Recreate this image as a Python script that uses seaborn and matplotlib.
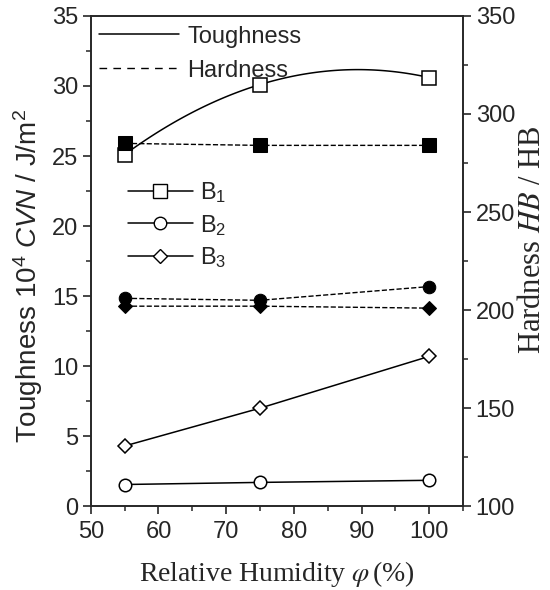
import matplotlib
matplotlib.use("Agg")
import matplotlib.pyplot as plt
from matplotlib.lines import Line2D
from matplotlib.ticker import MultipleLocator
import seaborn as sns

# data
humidity = [55, 75, 100]
toughness_b1 = [25.1, 30.1, 30.6]
toughness_b2 = [1.55, 1.7, 1.85]
toughness_b3 = [4.3, 7.0, 10.7]
hardness_b1 = [285, 284, 284]
hardness_b2 = [206, 205, 212]
hardness_b3 = [202, 202, 201]
grades = ["B$_1$", "B$_2$", "B$_3$"]
grade_markers = ["s", "o", "D"]
marker_sizes = {"s": 10, "o": 9, "D": 7.5}
dash = (5.5, 4.5)

sns.set_style("ticks")
plt.rcParams["font.family"] = ["Liberation Sans", "DejaVu Sans"]
plt.rcParams["mathtext.fontset"] = "custom"
plt.rcParams["mathtext.rm"] = "Liberation Sans"
plt.rcParams["mathtext.it"] = "Liberation Sans:italic"
plt.rcParams["font.size"] = 17
plt.rcParams["axes.linewidth"] = 1.2

fig, ax = plt.subplots(figsize=(5.5, 5.9), dpi=100)
fig.subplots_adjust(left=0.165, right=0.842, top=0.973, bottom=0.142)
ax2 = ax.twinx()

# toughness: solid lines, open markers (B1 drawn as a smooth curve)
sns.regplot(x=humidity, y=toughness_b1, order=2, ci=None, scatter=False, ax=ax,
            color="black", line_kws=dict(linewidth=1.1))
sns.lineplot(x=humidity, y=toughness_b1, ax=ax, marker="s", linestyle="",
             markersize=marker_sizes["s"], markerfacecolor="white",
             markeredgecolor="black", markeredgewidth=1.1, color="black")
for vals, m in [(toughness_b2, "o"), (toughness_b3, "D")]:
    sns.lineplot(x=humidity, y=vals, ax=ax, marker=m, linewidth=1.1,
                 markersize=marker_sizes[m], markerfacecolor="white",
                 markeredgecolor="black", markeredgewidth=1.1, color="black")

# hardness: dashed lines, filled markers
for vals, m in zip([hardness_b1, hardness_b2, hardness_b3], grade_markers):
    sns.lineplot(x=humidity, y=vals, ax=ax2, marker=m, linestyle="--",
                 linewidth=1.0, dashes=dash, markersize=marker_sizes[m],
                 markerfacecolor="black", markeredgecolor="black", color="black")

ax.set_xlim(50, 105)
ax.set_ylim(0, 35)
ax2.set_ylim(100, 350)
ax.xaxis.set_major_locator(MultipleLocator(10))
ax.xaxis.set_minor_locator(MultipleLocator(5))
ax.yaxis.set_major_locator(MultipleLocator(5))
ax.yaxis.set_minor_locator(MultipleLocator(2.5))
ax2.yaxis.set_major_locator(MultipleLocator(50))
ax2.yaxis.set_minor_locator(MultipleLocator(25))

for a in (ax, ax2):
    a.tick_params(which="major", direction="out", length=6, width=1.2,
                  labelsize=17, pad=3)
    a.tick_params(which="minor", direction="out", length=3.5, width=1.1)
    for s in a.spines.values():
        s.set_visible(True)
        s.set_linewidth(1.2)
ax.tick_params(axis="x", which="major", pad=5)

ax.set_xlabel(r"Relative Humidity $\varphi\,$(%)", fontsize=20,
              family="Liberation Serif", math_fontfamily="stix", labelpad=11)
ax.set_ylabel(r"Toughness 10$^4$ $CVN$ / J/m$^2$", fontsize=20)
ax.yaxis.set_label_coords(-0.124, 0.47)
ax2.set_ylabel(r"Hardness $HB$ / HB", fontsize=22, family="Liberation Serif",
               math_fontfamily="stix")
ax2.yaxis.set_label_coords(1.148, 0.543)

leg1 = ax2.legend(handles=[Line2D([], [], color="black", lw=1.1),
                           Line2D([], [], color="black", lw=1.0, ls=(0, dash))],
                  labels=["Toughness", "Hardness"], loc="upper left",
                  bbox_to_anchor=(0.0215, 0.98), borderaxespad=0, borderpad=0,
                  frameon=False, handlelength=3.4, handletextpad=0.35,
                  labelspacing=0.5, fontsize=17)
ax2.add_artist(leg1)

grade_handles = [Line2D([], [], color="black", lw=1.1, marker=m,
                        markersize=marker_sizes[m], markerfacecolor="white",
                        markeredgecolor="black") for m in grade_markers]
ax2.legend(handles=grade_handles, labels=grades, loc="upper left",
           bbox_to_anchor=(0.0995, 0.665), borderaxespad=0, borderpad=0,
           frameon=False, handlelength=2.75, handletextpad=0.3,
           labelspacing=0.32, fontsize=17)

fig.savefig("out.png", dpi=100)
